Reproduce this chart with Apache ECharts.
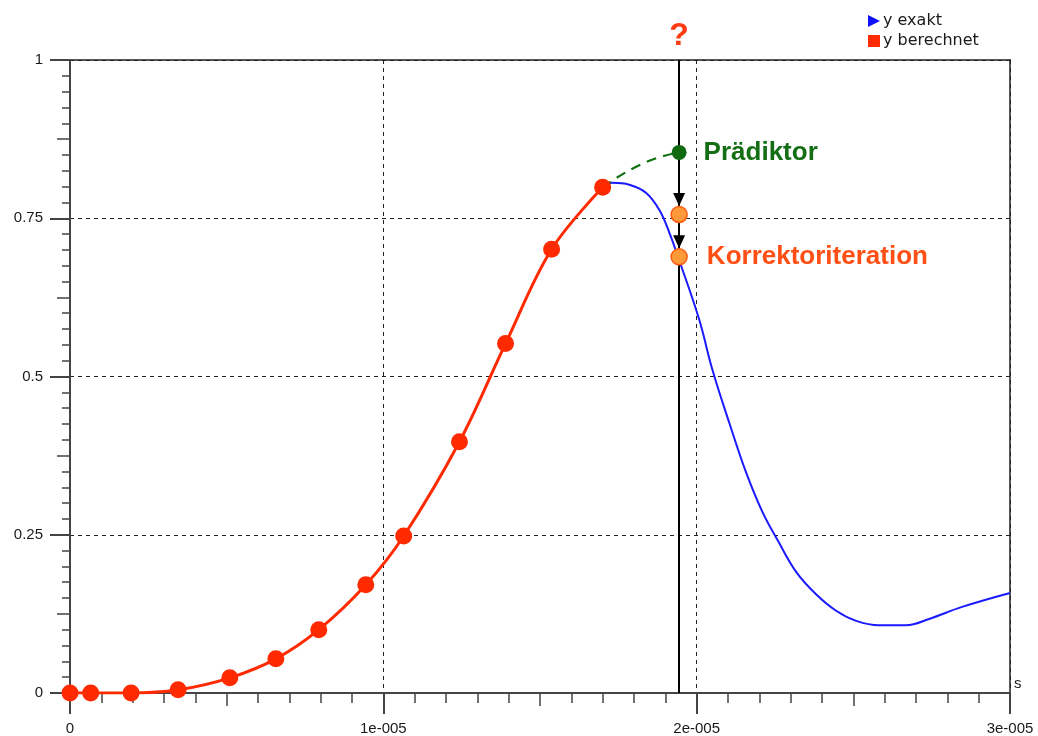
<!DOCTYPE html>
<html>
<head>
<meta charset="utf-8">
<script src="https://cdn.jsdelivr.net/npm/echarts@6/dist/echarts.min.js"></script>
<style>
html,body{margin:0;padding:0;background:#fff;}
#c{width:1038px;height:736px;}
</style>
</head>
<body>
<div id="c"></div>
<script>
// ---- data (x in seconds) ----
const xTickLabels = ['0', '1e-005', '2e-005', '3e-005'];
const berechnetX = [0, 0.66e-6, 1.95e-6, 3.45e-6, 5.10e-6, 6.57e-6, 7.94e-6, 9.44e-6, 10.65e-6, 12.43e-6, 13.90e-6, 15.37e-6, 17.0e-6];
const berechnetY = [0, 0, 0, 0.005, 0.024, 0.054, 0.100, 0.171, 0.248, 0.397, 0.552, 0.701, 0.799];
const exaktX = [17.0e-6, 17.31e-6, 17.85e-6, 18.39e-6, 18.81e-6, 19.13e-6, 19.44e-6, 20.08e-6, 20.50e-6, 21.04e-6, 21.58e-6, 22.09e-6, 22.60e-6, 23.18e-6, 23.81e-6, 24.45e-6, 25.09e-6, 25.82e-6, 26.68e-6, 27.42e-6, 28.47e-6, 30.0e-6];
const exaktY = [0.799, 0.806, 0.803, 0.790, 0.763, 0.727, 0.684, 0.590, 0.511, 0.427, 0.348, 0.287, 0.240, 0.191, 0.156, 0.130, 0.114, 0.107, 0.107, 0.117, 0.136, 0.158];
const stepX = 19.44e-6;
const praediktorPathX = [17.0e-6, 18.30e-6, 19.44e-6];
const praediktorPathY = [0.799, 0.837, 0.854];
const praediktorY = 0.854;
const korrektorY = [0.756, 0.689];
const labelPraediktor = 'Prädiktor';
const labelKorrektor = 'Korrektoriteration';
const labelQuestion = '?';
const seriesNames = ['y exakt', 'y berechnet'];

const zip = (xs, ys) => xs.map((x, i) => [x, ys[i]]);

const FONT = 'Liberation Sans, Arial, sans-serif';
const axisColor = '#444';
const tickLabelMap = {};
xTickLabels.forEach((t, i) => { tickLabelMap[i] = t; });

const chart = echarts.init(document.getElementById('c'), null, {renderer: 'canvas'});

const arrowHead = 'path://M0,0 L10,0 L5,12 Z';

const option = {
  animation: false,
  backgroundColor: '#fff',
  grid: {
    left: 70, right: 28, top: 60, bottom: 43,
    show: true, borderColor: '#555', borderWidth: 2, backgroundColor: 'transparent'
  },
  legend: {
    orient: 'vertical',
    left: 863, top: 8,
    itemWidth: 12, itemHeight: 12, itemGap: 4,
    textStyle: {fontFamily: 'DejaVu Sans', fontSize: 16, color: '#1a1a1a', padding: [0, 0, 0, -2]},
    data: [
      {name: seriesNames[0], icon: 'path://M0,0 L12,6 L0,12 Z', itemStyle: {color: '#1010ff'}},
      {name: seriesNames[1], icon: 'rect', itemStyle: {color: '#ff2a00'}}
    ]
  },
  xAxis: [
    {
      type: 'value', min: 0, max: 3e-5, interval: 1e-5,
      axisLine: {show: true, onZero: false, lineStyle: {color: axisColor, width: 2}},
      axisTick: {show: true, length: 21, lineStyle: {color: axisColor, width: 2}},
      minorTick: {show: true, splitNumber: 10, length: 10, lineStyle: {color: axisColor, width: 1.5}},
      axisLabel: {
        margin: 28, fontFamily: FONT, fontSize: 15, color: '#1a1a1a',
        formatter: (v) => tickLabelMap[Math.round(v / 1e-5)]
      },
      splitLine: {show: true, lineStyle: {color: '#222', width: 1, type: [4, 4]}},
      name: 's', nameLocation: 'end', nameGap: 4,
      nameTextStyle: {fontFamily: FONT, fontSize: 15, color: '#1a1a1a', verticalAlign: 'bottom', padding: [0, 0, 2, 0]}
    },
    {
      type: 'value', min: 0, max: 3e-5, interval: 5e-6, position: 'bottom',
      axisLine: {show: false}, axisLabel: {show: false}, splitLine: {show: false},
      axisTick: {show: true, length: 13, lineStyle: {color: axisColor, width: 1.5}}
    }
  ],
  yAxis: [
    {
      type: 'value', min: 0, max: 1, interval: 0.25,
      axisLine: {show: true, onZero: false, lineStyle: {color: axisColor, width: 2}},
      axisTick: {show: true, length: 20, lineStyle: {color: axisColor, width: 2}},
      minorTick: {show: true, splitNumber: 10, length: 8, lineStyle: {color: axisColor, width: 1.5}},
      axisLabel: {margin: 27, fontFamily: FONT, fontSize: 15, color: '#1a1a1a'},
      splitLine: {show: true, lineStyle: {color: '#222', width: 1, type: [4, 4]}}
    },
    {
      type: 'value', min: 0, max: 1, interval: 0.125, position: 'left',
      axisLine: {show: false}, axisLabel: {show: false}, splitLine: {show: false},
      axisTick: {show: true, length: 13, lineStyle: {color: axisColor, width: 1.5}}
    }
  ],
  series: [
    {
      name: seriesNames[0], type: 'line', smooth: 0.4,
      data: zip(exaktX, exaktY), showSymbol: false, symbol: 'none',
      lineStyle: {color: '#1a1aff', width: 2}, itemStyle: {color: '#1010ff'}, z: 3
    },
    {
      name: 'praediktorPath', type: 'line', smooth: 0.5,
      data: zip(praediktorPathX, praediktorPathY), showSymbol: false, symbol: 'none',
      lineStyle: {color: '#107010', width: 2.2, type: [10, 7]}, z: 3
    },
    {
      name: 'step', type: 'line', data: [], z: 4,
      markLine: {
        silent: true, symbol: 'none', label: {show: false},
        lineStyle: {color: '#000', width: 2, type: 'solid'},
        data: [[{coord: [stepX, 0]}, {coord: [stepX, 1]}]]
      },
      markPoint: {
        silent: true,
        data: [
          {coord: [stepX, korrektorY[0]], symbol: arrowHead, symbolSize: [12, 13], symbolOffset: [0, -15], itemStyle: {color: '#000'}, label: {show: false}},
          {coord: [stepX, korrektorY[1]], symbol: arrowHead, symbolSize: [12, 13], symbolOffset: [0, -15], itemStyle: {color: '#000'}, label: {show: false}},
          {coord: [stepX, 1], symbol: 'circle', symbolSize: 0,
           label: {show: true, formatter: labelQuestion, position: 'top', distance: 8, fontFamily: FONT, fontWeight: 'bold', fontSize: 32, color: '#ff3a10'}}
        ]
      }
    },
    {
      name: seriesNames[1], type: 'line', smooth: 0.35,
      data: zip(berechnetX, berechnetY), symbol: 'circle', symbolSize: 17, showSymbol: true,
      lineStyle: {color: '#ff2a00', width: 3}, itemStyle: {color: '#ff2a00', opacity: 1}, z: 5
    },
    {
      name: 'praediktor', type: 'scatter', z: 6,
      data: [[stepX, praediktorY]], symbol: 'circle', symbolSize: 15,
      itemStyle: {color: '#0f6a0f', opacity: 1},
      label: {show: true, formatter: labelPraediktor, position: 'right', distance: 17,
        fontFamily: FONT, fontWeight: 'bold', fontSize: 26, color: '#146e14'}
    },
    {
      name: 'korrektor', type: 'scatter', z: 6,
      data: zip([stepX, stepX], korrektorY), symbol: 'circle', symbolSize: 16,
      itemStyle: {color: '#ff9a3a', borderColor: '#ff5a10', borderWidth: 1.5, opacity: 1},
      label: {show: true, position: 'right', distance: 19,
        formatter: (p) => p.dataIndex === 1 ? labelKorrektor : '',
        fontFamily: FONT, fontWeight: 'bold', fontSize: 26, color: '#ff4f14'}
    }
  ]
};
chart.setOption(option);
</script>
</body>
</html>
